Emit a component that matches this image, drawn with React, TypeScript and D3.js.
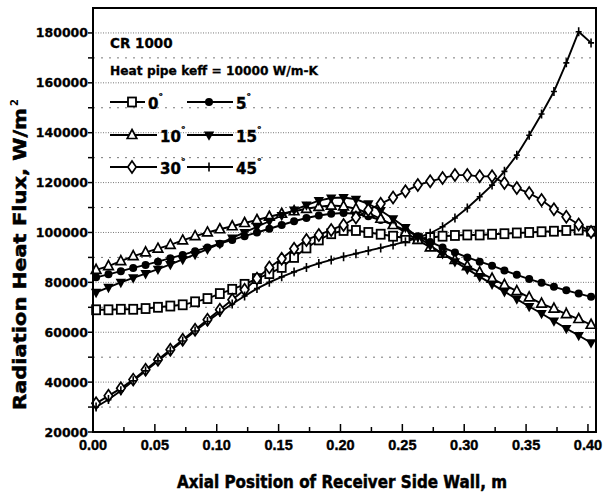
import * as d3 from 'd3';

// axial position of the cell centres, m
const xPos = [
  0.0025, 0.0125, 0.0225, 0.0325, 0.0425, 0.0525, 0.0625, 0.0725, 0.0825, 0.0925,
  0.1025, 0.1125, 0.1225, 0.1325, 0.1425, 0.1525, 0.1625, 0.1725, 0.1825, 0.1925,
  0.2025, 0.2125, 0.2225, 0.2325, 0.2425, 0.2525, 0.2625, 0.2725, 0.2825, 0.2925,
  0.3025, 0.3125, 0.3225, 0.3325, 0.3425, 0.3525, 0.3625, 0.3725, 0.3825, 0.3925,
  0.4025,
];

// radiation heat flux, W/m2, one array per inclination angle
const flux0 = [
  69000, 69000, 69200, 69200, 69500, 70000, 70500, 71000, 72200, 73500,
  75500, 77200, 79200, 81500, 83500, 86000, 90000, 93800, 97000, 99500,
  100800, 100800, 100000, 99300, 98500, 97800, 97500, 98000, 98500, 98800,
  99000, 99000, 99300, 99500, 99800, 100000, 100300, 100500, 100800, 101000,
  100500,
];
const flux5 = [
  82000, 83200, 84500, 85800, 87000, 88300, 89700, 91000, 92500, 94000,
  95500, 97000, 98500, 100000, 101500, 103000, 104500, 105800, 106800, 107500,
  107800, 107500, 106500, 105000, 103000, 100800, 98500, 96200, 94000, 92000,
  90000, 88300, 86700, 84800, 83000, 81300, 79800, 78200, 76800, 75500,
  74200,
];
const flux10 = [
  85000, 86500, 88500, 90500, 92000, 93500, 95000, 96800, 98500, 100000,
  101300, 102500, 103800, 105000, 106300, 107500, 108500, 109500, 110300, 110800,
  110500, 109500, 107800, 105500, 103000, 100000, 97000, 94000, 91500, 89000,
  86500, 84000, 81500, 79000, 76500, 74000, 71500, 69500, 67300, 65300,
  63000,
];
const flux15 = [
  76000, 78000, 80000, 81800, 83500, 85300, 87200, 89200, 91200, 93300,
  95500, 97800, 100000, 102300, 104500, 106800, 109000, 111000, 112800, 113800,
  114000, 113300, 111500, 108800, 105500, 102000, 98200, 94800, 91500, 88300,
  85300, 82300, 79300, 76300, 73300, 70300, 67500, 64500, 61500, 58700,
  55800,
];
const flux30 = [
  31500, 34500, 37500, 41000, 45000, 49000, 53000, 57000, 61000, 65000,
  69000, 73000, 77000, 81500, 86000, 89500, 93500, 97000, 99000, 101000,
  103000, 106000, 109000, 111500, 114000, 116500, 119000, 120500, 121800, 123000,
  123000, 122500, 122500, 119800, 117800, 115800, 113000, 109300, 106300, 103200,
  100200,
];
const flux45 = [
  30000, 33000, 36500, 40500, 44500, 48500, 52500, 56500, 60500, 64300,
  68000, 71300, 74500, 77500, 80000, 82200, 84200, 86000, 87600, 89000,
  90300, 91500, 92700, 93800, 95000, 96300, 97800, 99700, 102300, 105800,
  109800, 114300, 119000, 124500, 131000, 139000, 147500, 156500, 168000, 180500,
  176000,
];

const angleLabels = ['0', '5', '10', '15', '30', '45'];
const yTicks = [20000, 40000, 60000, 80000, 100000, 120000, 140000, 160000, 180000];
const xTicks = [0, 0.05, 0.1, 0.15, 0.2, 0.25, 0.3, 0.35, 0.4];
const xTickLabels = ['0.00', '0.05', '0.10', '0.15', '0.20', '0.25', '0.30', '0.35', '0.40'];

type MarkerKind = 'square' | 'circle' | 'triangle' | 'invtriangle' | 'diamond' | 'plus';

const series: { label: string; values: number[]; marker: MarkerKind }[] = [
  { label: angleLabels[0], values: flux0, marker: 'square' },
  { label: angleLabels[1], values: flux5, marker: 'circle' },
  { label: angleLabels[2], values: flux10, marker: 'triangle' },
  { label: angleLabels[3], values: flux15, marker: 'invtriangle' },
  { label: angleLabels[4], values: flux30, marker: 'diamond' },
  { label: angleLabels[5], values: flux45, marker: 'plus' },
];

const W = 611;
const H = 495;
const plot = { left: 93, right: 596, top: 8, bottom: 432 };
const FONT = '"DejaVu Sans", "Liberation Sans", Arial, sans-serif';
const FONT2 = '"Liberation Sans", Arial, sans-serif';

const Marker = ({ kind, x, y }: { kind: MarkerKind; x: number; y: number }) => {
  const t = `translate(${x},${y})`;
  switch (kind) {
    case 'square':
      return <rect x={x - 4} y={y - 4.5} width={8} height={9} fill="#fff" stroke="#000" strokeWidth={1.8} />;
    case 'circle':
      return <circle cx={x} cy={y} r={4} fill="#000" />;
    case 'triangle':
      return <path transform={t} d="M0,-5.5L4.8,3.5L-4.8,3.5Z" fill="#fff" stroke="#000" strokeWidth={1.7} />;
    case 'invtriangle':
      return <path transform={t} d="M-5.2,-3.5L5.2,-3.5L0,5.8Z" fill="#000" />;
    case 'diamond':
      return <path transform={t} d="M0,-6L4.2,0L0,6L-4.2,0Z" fill="#fff" stroke="#000" strokeWidth={1.7} />;
    default:
      return <path transform={t} d="M-3,0H3M0,-4.5V4.5" stroke="#000" strokeWidth={1.6} fill="none" />;
  }
};

export default function App() {
  const x = d3.scaleLinear().domain([0, 0.4065]).range([plot.left, plot.right]);
  const y = d3.scaleLinear().domain([20000, 190000]).range([plot.bottom, plot.top]);

  const line = d3
    .line<number>()
    .x((_, i) => x(xPos[i]))
    .y((d) => y(d));

  const gridVals = d3.range(30000, 190000, 10000);
  const minorX = d3.range(0.025, 0.4, 0.05);
  const leftTicks = d3.range(20000, 190000, 10000);

  // legend rows
  const legendRows = [
    { cy: 102, items: [0, 1], lineEnd: 145 },
    { cy: 135, items: [2, 3], lineEnd: 157 },
    { cy: 167, items: [4, 5], lineEnd: 157 },
  ];

  const heavy = { stroke: '#000', strokeWidth: 0.5 };

  return (
    <svg width={W} height={H} style={{ position: 'absolute', left: 0, top: 0, background: '#fff' }}>
      <rect width={W} height={H} fill="#fff" />

      {/* horizontal grid */}
      {gridVals.map((v) => (
        <line
          key={v}
          x1={plot.left}
          x2={plot.right}
          y1={y(v)}
          y2={y(v)}
          stroke="#555"
          strokeWidth={0.8}
          strokeDasharray={v % 20000 === 0 ? '1,1.5' : '2,6'}
        />
      ))}

      {/* curves */}
      {series.map((s) => (
        <path key={s.label} d={line(s.values) ?? ''} fill="none" stroke="#000" strokeWidth={1.9} />
      ))}
      {series.map((s) => (
        <g key={s.label}>
          {s.values.map((v, i) => (
            <Marker key={i} kind={s.marker} x={x(xPos[i])} y={y(v)} />
          ))}
        </g>
      ))}

      {/* frame */}
      <rect
        x={plot.left}
        y={plot.top}
        width={plot.right - plot.left}
        height={plot.bottom - plot.top}
        fill="none"
        stroke="#000"
        strokeWidth={2}
      />

      {/* left ticks */}
      {leftTicks.map((v) => (
        <line key={v} x1={plot.left - 5} x2={plot.left} y1={y(v)} y2={y(v)} stroke="#000" strokeWidth={1.5} />
      ))}
      {yTicks.map((v) => (
        <text
          key={v}
          x={plot.left - 5}
          y={y(v)}
          dy="0.36em"
          textAnchor="end"
          fontFamily={FONT}
          fontWeight="bold"
          fontSize={12.5}
          {...heavy}
          strokeWidth={0.3}
        >
          {v}
        </text>
      ))}

      {/* bottom ticks */}
      {xTicks.map((v) => (
        <line key={v} x1={x(v)} x2={x(v)} y1={plot.bottom} y2={plot.bottom - 8} stroke="#000" strokeWidth={1.5} />
      ))}
      {minorX.map((v) => (
        <line key={v} x1={x(v)} x2={x(v)} y1={plot.bottom} y2={plot.bottom - 5} stroke="#000" strokeWidth={1.5} />
      ))}
      {xTickLabels.map((lab, i) => (
        <text
          key={lab}
          x={x(xTicks[i])}
          y={450}
          textAnchor="middle"
          fontFamily={FONT2}
          fontWeight="bold"
          fontSize={14.5}
          {...heavy}
          strokeWidth={0.4}
        >
          {lab}
        </text>
      ))}

      {/* axis titles */}
      <text
        x={177}
        y={488}
        fontFamily={FONT}
        fontWeight="bold"
        fontSize={17}
        textLength={330}
        lengthAdjust="spacingAndGlyphs"
        {...heavy}
      >
        Axial Position of Receiver Side Wall, m
      </text>
      <g transform="translate(26,410) rotate(-90)">
        <text
          x={0}
          y={0}
          fontFamily={FONT}
          fontWeight="bold"
          fontSize={17}
          textLength={302}
          lengthAdjust="spacingAndGlyphs"
          {...heavy}
        >
          Radiation Heat Flux, W/m
        </text>
        <text x={304} y={-8} fontFamily={FONT} fontWeight="bold" fontSize={10}>
          2
        </text>
      </g>

      {/* legend */}
      <text x={110} y={48} fontFamily={FONT} fontWeight="bold" fontSize={13.5} {...heavy} strokeWidth={0.3}>
        CR 1000
      </text>
      <text
        x={110}
        y={75}
        fontFamily={FONT}
        fontWeight="bold"
        fontSize={12.5}
        textLength={208}
        lengthAdjust="spacingAndGlyphs"
        {...heavy}
        strokeWidth={0.3}
      >
        Heat pipe keff = 10000 W/m-K
      </text>
      {legendRows.map((row) => (
        <g key={row.cy}>
          {row.items.map((si, j) => {
            const x0 = j === 0 ? 110 : 187;
            const x1 = j === 0 ? row.lineEnd : 233;
            const mx = j === 0 ? 132 : 209;
            const s = series[si];
            return (
              <g key={si}>
                <line x1={x0} x2={x1} y1={row.cy} y2={row.cy} stroke="#000" strokeWidth={2} />
                <Marker kind={s.marker} x={mx} y={row.cy} />
                <text
                  x={x1 + 3}
                  y={row.cy + 7}
                  fontFamily={FONT}
                  fontWeight="bold"
                  fontSize={15}
                  {...heavy}
                  strokeWidth={0.4}
                >
                  {s.label}
                  <tspan fontSize={9} dy={-9}>
                    °
                  </tspan>
                </text>
              </g>
            );
          })}
        </g>
      ))}
    </svg>
  );
}
